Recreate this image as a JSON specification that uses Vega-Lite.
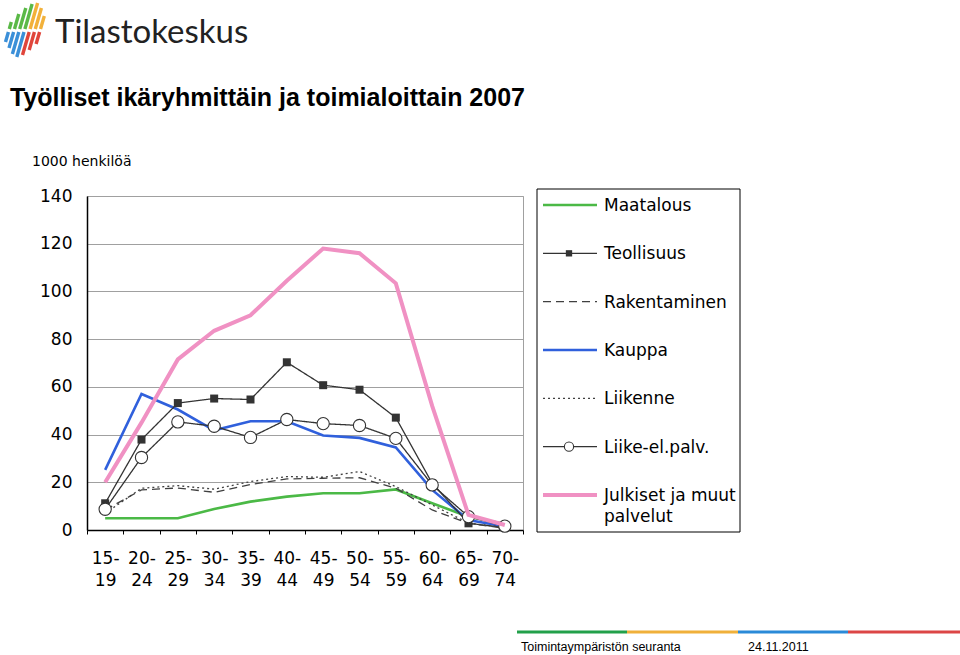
{
  "$schema": "https://vega.github.io/schema/vega-lite/v6.json",
  "autosize": "none",
  "width": 436,
  "height": 334,
  "padding": {"left": 87, "top": 196, "right": 437, "bottom": 125},
  "background": "white",
  "config": {"view": {"stroke": "#a0a0a0", "strokeWidth": 1}, "font": "DejaVu Sans"},
  "datasets": {
    "employment": [
      {"age": "15-19", "series": "Maatalous", "value": 4.9},
      {"age": "20-24", "series": "Maatalous", "value": 4.9},
      {"age": "25-29", "series": "Maatalous", "value": 4.9},
      {"age": "30-34", "series": "Maatalous", "value": 8.8},
      {"age": "35-39", "series": "Maatalous", "value": 11.9},
      {"age": "40-44", "series": "Maatalous", "value": 14.0},
      {"age": "45-49", "series": "Maatalous", "value": 15.4},
      {"age": "50-54", "series": "Maatalous", "value": 15.4},
      {"age": "55-59", "series": "Maatalous", "value": 17.0},
      {"age": "60-64", "series": "Maatalous", "value": 11.2},
      {"age": "65-69", "series": "Maatalous", "value": 5.6},
      {"age": "70-74", "series": "Maatalous", "value": 2.5},
      {"age": "15-19", "series": "Teollisuus", "value": 11.2},
      {"age": "20-24", "series": "Teollisuus", "value": 37.9},
      {"age": "25-29", "series": "Teollisuus", "value": 53.2},
      {"age": "30-34", "series": "Teollisuus", "value": 55.1},
      {"age": "35-39", "series": "Teollisuus", "value": 54.7},
      {"age": "40-44", "series": "Teollisuus", "value": 70.3},
      {"age": "45-49", "series": "Teollisuus", "value": 60.7},
      {"age": "50-54", "series": "Teollisuus", "value": 58.8},
      {"age": "55-59", "series": "Teollisuus", "value": 47.1},
      {"age": "60-64", "series": "Teollisuus", "value": 19.6},
      {"age": "65-69", "series": "Teollisuus", "value": 2.8},
      {"age": "70-74", "series": "Teollisuus", "value": 1.0},
      {"age": "15-19", "series": "Rakentaminen", "value": 8.4},
      {"age": "20-24", "series": "Rakentaminen", "value": 16.8},
      {"age": "25-29", "series": "Rakentaminen", "value": 17.6},
      {"age": "30-34", "series": "Rakentaminen", "value": 15.8},
      {"age": "35-39", "series": "Rakentaminen", "value": 19.1},
      {"age": "40-44", "series": "Rakentaminen", "value": 21.4},
      {"age": "45-49", "series": "Rakentaminen", "value": 21.7},
      {"age": "50-54", "series": "Rakentaminen", "value": 21.9},
      {"age": "55-59", "series": "Rakentaminen", "value": 17.5},
      {"age": "60-64", "series": "Rakentaminen", "value": 8.4},
      {"age": "65-69", "series": "Rakentaminen", "value": 2.8},
      {"age": "70-74", "series": "Rakentaminen", "value": 0.7},
      {"age": "15-19", "series": "Kauppa", "value": 25.2},
      {"age": "20-24", "series": "Kauppa", "value": 57.0},
      {"age": "25-29", "series": "Kauppa", "value": 50.5},
      {"age": "30-34", "series": "Kauppa", "value": 41.8},
      {"age": "35-39", "series": "Kauppa", "value": 45.6},
      {"age": "40-44", "series": "Kauppa", "value": 45.6},
      {"age": "45-49", "series": "Kauppa", "value": 39.6},
      {"age": "50-54", "series": "Kauppa", "value": 38.6},
      {"age": "55-59", "series": "Kauppa", "value": 34.6},
      {"age": "60-64", "series": "Kauppa", "value": 16.8},
      {"age": "65-69", "series": "Kauppa", "value": 4.2},
      {"age": "70-74", "series": "Kauppa", "value": 1.5},
      {"age": "15-19", "series": "Liikenne", "value": 7.0},
      {"age": "20-24", "series": "Liikenne", "value": 17.5},
      {"age": "25-29", "series": "Liikenne", "value": 18.6},
      {"age": "30-34", "series": "Liikenne", "value": 17.1},
      {"age": "35-39", "series": "Liikenne", "value": 20.3},
      {"age": "40-44", "series": "Liikenne", "value": 22.4},
      {"age": "45-49", "series": "Liikenne", "value": 22.1},
      {"age": "50-54", "series": "Liikenne", "value": 24.5},
      {"age": "55-59", "series": "Liikenne", "value": 18.2},
      {"age": "60-64", "series": "Liikenne", "value": 10.5},
      {"age": "65-69", "series": "Liikenne", "value": 2.9},
      {"age": "70-74", "series": "Liikenne", "value": 1.0},
      {"age": "15-19", "series": "Liike-el.palv.", "value": 8.7},
      {"age": "20-24", "series": "Liike-el.palv.", "value": 30.4},
      {"age": "25-29", "series": "Liike-el.palv.", "value": 45.3},
      {"age": "30-34", "series": "Liike-el.palv.", "value": 43.5},
      {"age": "35-39", "series": "Liike-el.palv.", "value": 38.8},
      {"age": "40-44", "series": "Liike-el.palv.", "value": 46.3},
      {"age": "45-49", "series": "Liike-el.palv.", "value": 44.6},
      {"age": "50-54", "series": "Liike-el.palv.", "value": 43.8},
      {"age": "55-59", "series": "Liike-el.palv.", "value": 38.4},
      {"age": "60-64", "series": "Liike-el.palv.", "value": 18.9},
      {"age": "65-69", "series": "Liike-el.palv.", "value": 5.6},
      {"age": "70-74", "series": "Liike-el.palv.", "value": 1.6},
      {"age": "15-19", "series": "Julkiset ja muut palvelut", "value": 20.0},
      {"age": "20-24", "series": "Julkiset ja muut palvelut", "value": 45.0},
      {"age": "25-29", "series": "Julkiset ja muut palvelut", "value": 71.5},
      {"age": "30-34", "series": "Julkiset ja muut palvelut", "value": 83.5},
      {"age": "35-39", "series": "Julkiset ja muut palvelut", "value": 90.0},
      {"age": "40-44", "series": "Julkiset ja muut palvelut", "value": 104.5},
      {"age": "45-49", "series": "Julkiset ja muut palvelut", "value": 118.0},
      {"age": "50-54", "series": "Julkiset ja muut palvelut", "value": 116.0},
      {"age": "55-59", "series": "Julkiset ja muut palvelut", "value": 103.4},
      {"age": "60-64", "series": "Julkiset ja muut palvelut", "value": 52.0},
      {"age": "65-69", "series": "Julkiset ja muut palvelut", "value": 6.3},
      {"age": "70-74", "series": "Julkiset ja muut palvelut", "value": 2.1}
    ],
    "legendrows": [
      {"series": "Maatalous", "label": "Maatalous"},
      {"series": "Teollisuus", "label": "Teollisuus"},
      {"series": "Rakentaminen", "label": "Rakentaminen"},
      {"series": "Kauppa", "label": "Kauppa"},
      {"series": "Liikenne", "label": "Liikenne"},
      {"series": "Liike-el.palv.", "label": "Liike-el.palv."},
      {"series": "Julkiset ja muut palvelut", "label": "Julkiset ja muut\npalvelut"}
    ]
  },
  "resolve": {"scale": {"x": "independent", "y": "independent"}},
  "layer": [
    {
      "data": {"name": "employment"},
      "encoding": {
        "x": {
          "field": "age", "type": "nominal",
          "sort": ["15-19","20-24","25-29","30-34","35-39","40-44","45-49","50-54","55-59","60-64","65-69","70-74"],
          "scale": {"type": "band", "paddingInner": 0, "paddingOuter": 0},
          "bandPosition": 0.5,
          "axis": {
            "title": null, "labelAngle": 0, "grid": false,
            "domainColor": "#000000", "domainWidth": 1.5,
            "tickColor": "#000000", "tickWidth": 1, "tickSize": 4, "tickBand": "extent",
            "labelFont": "DejaVu Sans", "labelFontSize": 17, "labelColor": "#000000",
            "labelPadding": 16, "labelLineHeight": 22, "labelBaseline": "top",
            "labelExpr": "datum.value ? [split(datum.value, '-')[0] + '-', split(datum.value, '-')[1]] : ''"
          }
        },
        "y": {
          "field": "value", "type": "quantitative",
          "scale": {"domain": [0, 140], "nice": false},
          "axis": {
            "title": null, "values": [0, 20, 40, 60, 80, 100, 120, 140],
            "grid": true, "gridColor": "#a0a0a0", "gridWidth": 1.2,
            "domainColor": "#000000", "domainWidth": 1.5, "ticks": false,
            "labelFont": "DejaVu Sans", "labelFontSize": 17, "labelColor": "#000000",
            "labelPadding": 15
          }
        },
        "color": {
          "field": "series", "type": "nominal",
          "scale": {
            "domain": ["Maatalous","Teollisuus","Rakentaminen","Kauppa","Liikenne","Liike-el.palv.","Julkiset ja muut palvelut"],
            "range": ["#4bb946","#333333","#404040","#3060dc","#404040","#333333","#f091c3"]
          },
          "legend": null
        }
      },
      "layer": [
        {
          "transform": [{"filter": {"field": "series", "oneOf": ["Maatalous", "Kauppa"]}}],
          "mark": {"type": "line", "strokeWidth": 2.6}
        },
        {
          "transform": [{"filter": {"field": "series", "oneOf": ["Teollisuus", "Rakentaminen", "Liikenne", "Liike-el.palv."]}}],
          "mark": {"type": "line", "strokeWidth": 1.3},
          "encoding": {
            "strokeDash": {
              "field": "series", "type": "nominal",
              "scale": {"domain": ["Teollisuus","Rakentaminen","Liikenne","Liike-el.palv."], "range": [[1,0],[8,5],[2,3],[1,0]]},
              "legend": null
            }
          }
        },
        {
          "transform": [{"filter": {"field": "series", "equal": "Teollisuus"}}],
          "mark": {"type": "square", "size": 64, "opacity": 1, "filled": true}
        },
        {
          "transform": [{"filter": {"field": "series", "equal": "Liike-el.palv."}}],
          "mark": {"type": "point", "shape": "circle", "size": 150, "filled": false, "fill": "white", "fillOpacity": 1, "strokeWidth": 1.1, "opacity": 1}
        },
        {
          "transform": [{"filter": {"field": "series", "equal": "Julkiset ja muut palvelut"}}],
          "mark": {"type": "line", "strokeWidth": 4}
        }
      ]
    },
    {
      "data": {"name": "legendrows"},
      "encoding": {
        "y": {
          "field": "series", "type": "nominal",
          "scale": {"type": "point", "domain": ["Maatalous","Teollisuus","Rakentaminen","Kauppa","Liikenne","Liike-el.palv.","Julkiset ja muut palvelut"], "range": [9, 299], "padding": 0},
          "axis": null
        }
      },
      "layer": [
        {
          "transform": [{"filter": {"field": "series", "oneOf": ["Maatalous", "Kauppa"]}}],
          "mark": {"type": "rule", "strokeWidth": 2.6},
          "encoding": {
            "x": {"datum": 543, "type": "quantitative", "scale": {"domain": [87, 523], "nice": false, "zero": false}, "axis": null},
            "x2": {"datum": 597},
            "color": {"field": "series", "type": "nominal", "legend": null}
          }
        },
        {
          "transform": [{"filter": {"field": "series", "oneOf": ["Teollisuus", "Rakentaminen", "Liikenne", "Liike-el.palv."]}}],
          "mark": {"type": "rule", "strokeWidth": 1.3},
          "encoding": {
            "x": {"datum": 543, "type": "quantitative", "scale": {"domain": [87, 523], "nice": false, "zero": false}, "axis": null},
            "x2": {"datum": 597},
            "color": {"field": "series", "type": "nominal", "legend": null},
            "strokeDash": {"field": "series", "type": "nominal", "legend": null}
          }
        },
        {
          "transform": [{"filter": {"field": "series", "equal": "Julkiset ja muut palvelut"}}],
          "mark": {"type": "rule", "strokeWidth": 4},
          "encoding": {
            "x": {"datum": 543, "type": "quantitative", "scale": {"domain": [87, 523], "nice": false, "zero": false}, "axis": null},
            "x2": {"datum": 597},
            "color": {"field": "series", "type": "nominal", "legend": null}
          }
        },
        {
          "transform": [{"filter": {"field": "series", "equal": "Teollisuus"}}],
          "mark": {"type": "square", "size": 40, "filled": true, "opacity": 1},
          "encoding": {
            "x": {"datum": 569, "type": "quantitative", "scale": {"domain": [87, 523], "nice": false, "zero": false}, "axis": null},
            "color": {"field": "series", "type": "nominal", "legend": null}
          }
        },
        {
          "transform": [{"filter": {"field": "series", "equal": "Liike-el.palv."}}],
          "mark": {"type": "point", "shape": "circle", "size": 85, "filled": false, "fill": "white", "fillOpacity": 1, "strokeWidth": 1.1, "opacity": 1},
          "encoding": {
            "x": {"datum": 569, "type": "quantitative", "scale": {"domain": [87, 523], "nice": false, "zero": false}, "axis": null},
            "color": {"field": "series", "type": "nominal", "legend": null}
          }
        },
        {
          "mark": {"type": "text", "align": "left", "baseline": "alphabetic", "dy": 6, "font": "DejaVu Sans", "fontSize": 17, "fill": "#000000", "lineBreak": "\n", "lineHeight": 21},
          "encoding": {
            "x": {"datum": 604, "type": "quantitative", "scale": {"domain": [87, 523], "nice": false, "zero": false}, "axis": null},
            "text": {"field": "label"}
          }
        }
      ]
    },
    {
      "data": {"values": [{}]},
      "layer": [
        {
          "mark": {"type": "text", "text": "Työlliset ikäryhmittäin ja toimialoittain 2007", "align": "left", "baseline": "alphabetic", "font": "Liberation Sans", "fontWeight": "bold", "fontSize": 25, "fill": "#000000"},
          "encoding": {
            "x": {"datum": 10, "type": "quantitative", "scale": {"domain": [87, 523], "nice": false, "zero": false}, "axis": null},
            "y": {"datum": 106, "type": "quantitative", "scale": {"domain": [196, 530], "reverse": true, "nice": false, "zero": false}, "axis": null}
          }
        },
        {
          "mark": {"type": "text", "text": "1000 henkilöä", "align": "left", "baseline": "alphabetic", "font": "DejaVu Sans", "fontSize": 14, "fill": "#000000"},
          "encoding": {
            "x": {"datum": 32, "type": "quantitative", "scale": {"domain": [87, 523], "nice": false, "zero": false}, "axis": null},
            "y": {"datum": 166, "type": "quantitative", "scale": {"domain": [196, 530], "reverse": true, "nice": false, "zero": false}, "axis": null}
          }
        },
        {
          "mark": {"type": "text", "text": "Tilastokeskus", "align": "left", "baseline": "alphabetic", "font": "Lato", "fontSize": 33, "fill": "#222222"},
          "encoding": {
            "x": {"datum": 55, "type": "quantitative", "scale": {"domain": [87, 523], "nice": false, "zero": false}, "axis": null},
            "y": {"datum": 43, "type": "quantitative", "scale": {"domain": [196, 530], "reverse": true, "nice": false, "zero": false}, "axis": null}
          }
        },
        {
          "mark": {"type": "rect", "filled": false, "stroke": "#000000", "strokeWidth": 1},
          "encoding": {
            "x": {"datum": 537, "type": "quantitative", "scale": {"domain": [87, 523], "nice": false, "zero": false}, "axis": null},
            "x2": {"datum": 740},
            "y": {"datum": 189, "type": "quantitative", "scale": {"domain": [196, 530], "reverse": true, "nice": false, "zero": false}, "axis": null},
            "y2": {"datum": 532}
          }
        },
        {
          "mark": {"type": "rule", "stroke": "#22a04a", "strokeWidth": 3},
          "encoding": {
            "x": {"datum": 517, "type": "quantitative", "scale": {"domain": [87, 523], "nice": false, "zero": false}, "axis": null},
            "x2": {"datum": 627},
            "y": {"datum": 632, "type": "quantitative", "scale": {"domain": [196, 530], "reverse": true, "nice": false, "zero": false}, "axis": null}
          }
        },
        {
          "mark": {"type": "rule", "stroke": "#f0b03a", "strokeWidth": 3},
          "encoding": {
            "x": {"datum": 627, "type": "quantitative", "scale": {"domain": [87, 523], "nice": false, "zero": false}, "axis": null},
            "x2": {"datum": 738},
            "y": {"datum": 632, "type": "quantitative", "scale": {"domain": [196, 530], "reverse": true, "nice": false, "zero": false}, "axis": null}
          }
        },
        {
          "mark": {"type": "rule", "stroke": "#2a8ad8", "strokeWidth": 3},
          "encoding": {
            "x": {"datum": 738, "type": "quantitative", "scale": {"domain": [87, 523], "nice": false, "zero": false}, "axis": null},
            "x2": {"datum": 848},
            "y": {"datum": 632, "type": "quantitative", "scale": {"domain": [196, 530], "reverse": true, "nice": false, "zero": false}, "axis": null}
          }
        },
        {
          "mark": {"type": "rule", "stroke": "#dc4646", "strokeWidth": 3},
          "encoding": {
            "x": {"datum": 848, "type": "quantitative", "scale": {"domain": [87, 523], "nice": false, "zero": false}, "axis": null},
            "x2": {"datum": 960},
            "y": {"datum": 632, "type": "quantitative", "scale": {"domain": [196, 530], "reverse": true, "nice": false, "zero": false}, "axis": null}
          }
        },
        {
          "mark": {"type": "text", "text": "Toimintaympäristön seuranta", "align": "left", "baseline": "alphabetic", "font": "Liberation Sans", "fontSize": 12.5, "fill": "#000000"},
          "encoding": {
            "x": {"datum": 521, "type": "quantitative", "scale": {"domain": [87, 523], "nice": false, "zero": false}, "axis": null},
            "y": {"datum": 651, "type": "quantitative", "scale": {"domain": [196, 530], "reverse": true, "nice": false, "zero": false}, "axis": null}
          }
        },
        {
          "mark": {"type": "text", "text": "24.11.2011", "align": "left", "baseline": "alphabetic", "font": "Liberation Sans", "fontSize": 12.5, "fill": "#000000"},
          "encoding": {
            "x": {"datum": 748, "type": "quantitative", "scale": {"domain": [87, 523], "nice": false, "zero": false}, "axis": null},
            "y": {"datum": 651, "type": "quantitative", "scale": {"domain": [196, 530], "reverse": true, "nice": false, "zero": false}, "axis": null}
          }
        },
        {"mark": {"type": "rule", "stroke": "#5ab947", "strokeWidth": 3.4}, "encoding": {"x": {"datum": 11.3, "type": "quantitative", "scale": {"domain": [87, 523], "nice": false, "zero": false}, "axis": null}, "y": {"datum": 22, "type": "quantitative", "scale": {"domain": [196, 530], "reverse": true, "nice": false, "zero": false}, "axis": null}, "x2": {"datum": 9.3}, "y2": {"datum": 29}}},
        {"mark": {"type": "rule", "stroke": "#5ab947", "strokeWidth": 3.4}, "encoding": {"x": {"datum": 18.8, "type": "quantitative", "scale": {"domain": [87, 523], "nice": false, "zero": false}, "axis": null}, "y": {"datum": 14, "type": "quantitative", "scale": {"domain": [196, 530], "reverse": true, "nice": false, "zero": false}, "axis": null}, "x2": {"datum": 14.5}, "y2": {"datum": 29}}},
        {"mark": {"type": "rule", "stroke": "#5ab947", "strokeWidth": 3.4}, "encoding": {"x": {"datum": 25.8, "type": "quantitative", "scale": {"domain": [87, 523], "nice": false, "zero": false}, "axis": null}, "y": {"datum": 8, "type": "quantitative", "scale": {"domain": [196, 530], "reverse": true, "nice": false, "zero": false}, "axis": null}, "x2": {"datum": 19.7}, "y2": {"datum": 29}}},
        {"mark": {"type": "rule", "stroke": "#5ab947", "strokeWidth": 3.4}, "encoding": {"x": {"datum": 32.1, "type": "quantitative", "scale": {"domain": [87, 523], "nice": false, "zero": false}, "axis": null}, "y": {"datum": 4, "type": "quantitative", "scale": {"domain": [196, 530], "reverse": true, "nice": false, "zero": false}, "axis": null}, "x2": {"datum": 24.9}, "y2": {"datum": 29}}},
        {"mark": {"type": "rule", "stroke": "#f2b13a", "strokeWidth": 3.4}, "encoding": {"x": {"datum": 37.6, "type": "quantitative", "scale": {"domain": [87, 523], "nice": false, "zero": false}, "axis": null}, "y": {"datum": 3, "type": "quantitative", "scale": {"domain": [196, 530], "reverse": true, "nice": false, "zero": false}, "axis": null}, "x2": {"datum": 30.1}, "y2": {"datum": 29}}},
        {"mark": {"type": "rule", "stroke": "#f2b13a", "strokeWidth": 3.4}, "encoding": {"x": {"datum": 41.4, "type": "quantitative", "scale": {"domain": [87, 523], "nice": false, "zero": false}, "axis": null}, "y": {"datum": 8, "type": "quantitative", "scale": {"domain": [196, 530], "reverse": true, "nice": false, "zero": false}, "axis": null}, "x2": {"datum": 35.3}, "y2": {"datum": 29}}},
        {"mark": {"type": "rule", "stroke": "#f2b13a", "strokeWidth": 3.4}, "encoding": {"x": {"datum": 44.3, "type": "quantitative", "scale": {"domain": [87, 523], "nice": false, "zero": false}, "axis": null}, "y": {"datum": 16, "type": "quantitative", "scale": {"domain": [196, 530], "reverse": true, "nice": false, "zero": false}, "axis": null}, "x2": {"datum": 40.5}, "y2": {"datum": 29}}},
        {"mark": {"type": "rule", "stroke": "#3a8fd8", "strokeWidth": 3.4}, "encoding": {"x": {"datum": 8.4, "type": "quantitative", "scale": {"domain": [87, 523], "nice": false, "zero": false}, "axis": null}, "y": {"datum": 32, "type": "quantitative", "scale": {"domain": [196, 530], "reverse": true, "nice": false, "zero": false}, "axis": null}, "x2": {"datum": 5.5}, "y2": {"datum": 42}}},
        {"mark": {"type": "rule", "stroke": "#3a8fd8", "strokeWidth": 3.4}, "encoding": {"x": {"datum": 13.6, "type": "quantitative", "scale": {"domain": [87, 523], "nice": false, "zero": false}, "axis": null}, "y": {"datum": 32, "type": "quantitative", "scale": {"domain": [196, 530], "reverse": true, "nice": false, "zero": false}, "axis": null}, "x2": {"datum": 9.0}, "y2": {"datum": 48}}},
        {"mark": {"type": "rule", "stroke": "#3a8fd8", "strokeWidth": 3.4}, "encoding": {"x": {"datum": 18.8, "type": "quantitative", "scale": {"domain": [87, 523], "nice": false, "zero": false}, "axis": null}, "y": {"datum": 32, "type": "quantitative", "scale": {"domain": [196, 530], "reverse": true, "nice": false, "zero": false}, "axis": null}, "x2": {"datum": 12.4}, "y2": {"datum": 54}}},
        {"mark": {"type": "rule", "stroke": "#3a8fd8", "strokeWidth": 3.4}, "encoding": {"x": {"datum": 24.0, "type": "quantitative", "scale": {"domain": [87, 523], "nice": false, "zero": false}, "axis": null}, "y": {"datum": 32, "type": "quantitative", "scale": {"domain": [196, 530], "reverse": true, "nice": false, "zero": false}, "axis": null}, "x2": {"datum": 16.8}, "y2": {"datum": 57}}},
        {"mark": {"type": "rule", "stroke": "#e0453a", "strokeWidth": 3.4}, "encoding": {"x": {"datum": 29.2, "type": "quantitative", "scale": {"domain": [87, 523], "nice": false, "zero": false}, "axis": null}, "y": {"datum": 32, "type": "quantitative", "scale": {"domain": [196, 530], "reverse": true, "nice": false, "zero": false}, "axis": null}, "x2": {"datum": 22.5}, "y2": {"datum": 55}}},
        {"mark": {"type": "rule", "stroke": "#e0453a", "strokeWidth": 3.4}, "encoding": {"x": {"datum": 34.4, "type": "quantitative", "scale": {"domain": [87, 523], "nice": false, "zero": false}, "axis": null}, "y": {"datum": 32, "type": "quantitative", "scale": {"domain": [196, 530], "reverse": true, "nice": false, "zero": false}, "axis": null}, "x2": {"datum": 29.2}, "y2": {"datum": 50}}},
        {"mark": {"type": "rule", "stroke": "#e0453a", "strokeWidth": 3.4}, "encoding": {"x": {"datum": 39.6, "type": "quantitative", "scale": {"domain": [87, 523], "nice": false, "zero": false}, "axis": null}, "y": {"datum": 32, "type": "quantitative", "scale": {"domain": [196, 530], "reverse": true, "nice": false, "zero": false}, "axis": null}, "x2": {"datum": 36.1}, "y2": {"datum": 44}}}
      ]
    }
  ]
}
